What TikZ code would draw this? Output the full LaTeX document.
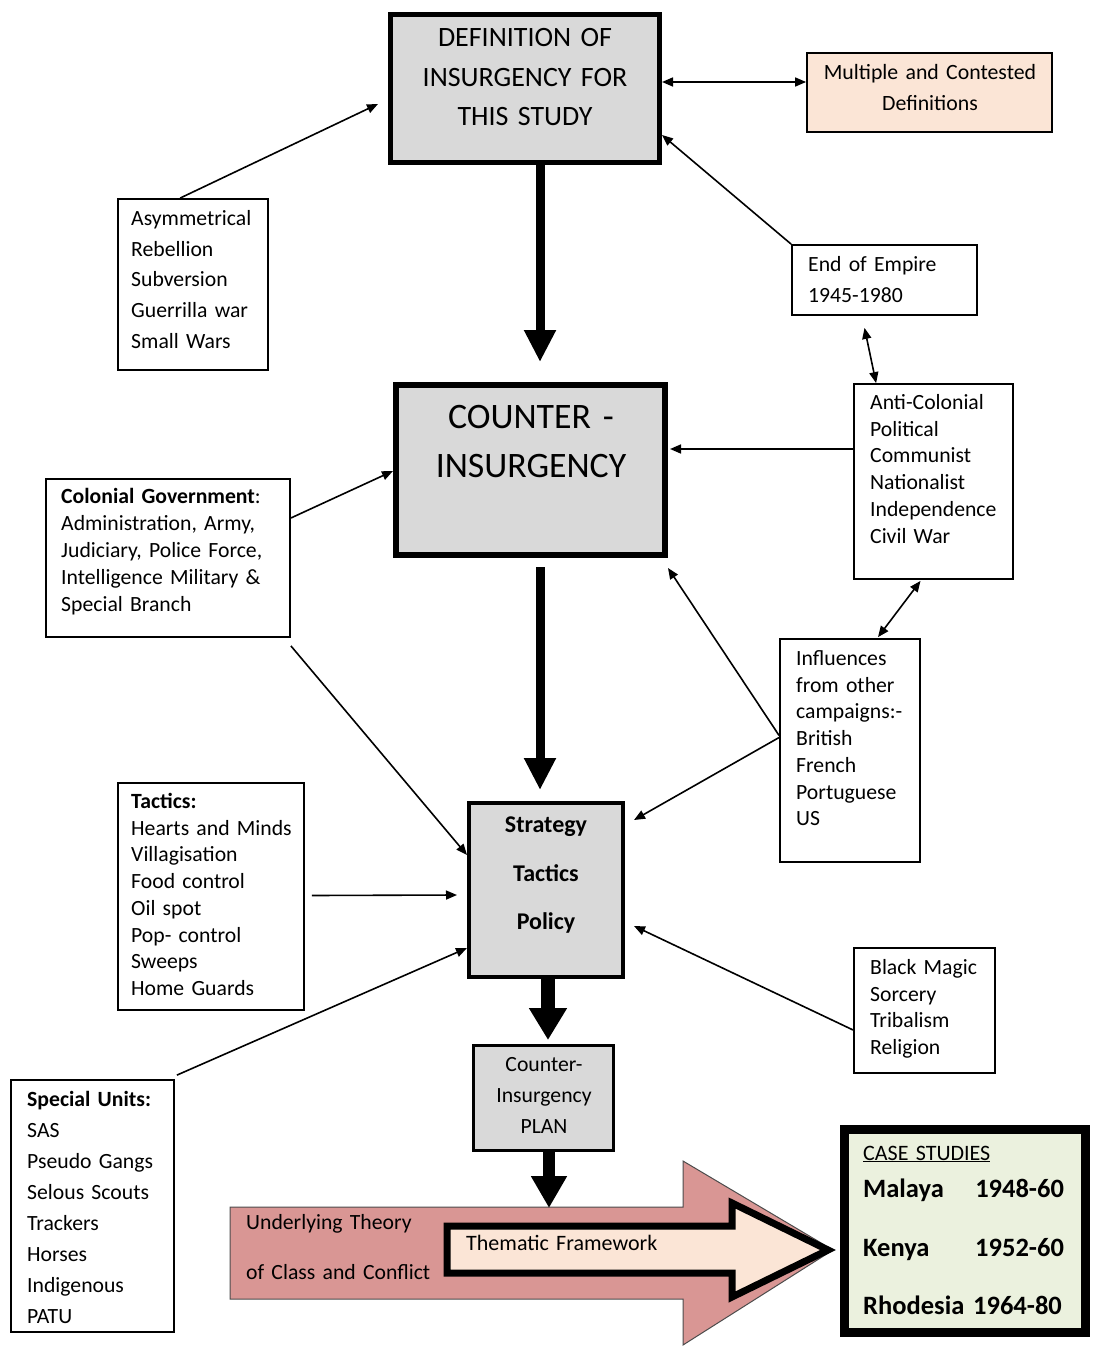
\documentclass[tikz,border=0pt]{standalone}
\usepackage{fontspec}
\setmainfont{Carlito}
\usetikzlibrary{arrows.meta,calc}
\definecolor{boxgray}{HTML}{D9D9D9}
\definecolor{peach}{HTML}{FBE5D6}
\definecolor{rosepink}{HTML}{D99694}
\definecolor{casegreen}{HTML}{EBF1DE}

\begin{document}
\begin{tikzpicture}[x=1pt,y=-1pt,
  box/.style={draw=black,line width=1.8pt,inner sep=0pt},
  txt/.style={align=left,text width=230,inner sep=0pt,anchor=base west,font=\fontsize{21.7}{26.7}\selectfont},
  ctxt/.style={align=center,text width=260,inner sep=0pt,anchor=base},
  arr/.style={line width=1.6pt,-{Triangle[length=11pt,width=9pt]}},
  darr/.style={line width=1.6pt,{Triangle[length=11pt,width=9pt]}-{Triangle[length=11pt,width=9pt]}},
  bigarr/.style={line width=9pt,-{Triangle[length=32pt,width=30pt]}},
]
\useasboundingbox (0,0) rectangle (1097,1348);

\node[box,line width=5pt,fill=boxgray,minimum width=269,minimum height=148] (def) at (525,88.5) {};
\node[box,fill=peach,minimum width=245,minimum height=79] (multi) at (929.5,92.5) {};
\node[box,minimum width=150,minimum height=171] (asym) at (193,284.5) {};
\node[box,minimum width=185,minimum height=70] (empire) at (884.5,280) {};
\node[box,minimum width=159,minimum height=195] (anti) at (933.5,481.5) {};
\node[box,line width=6pt,fill=boxgray,minimum width=269,minimum height=170] (counter) at (530.5,470) {};
\node[box,minimum width=244,minimum height=158] (colonial) at (168,558) {};
\node[box,minimum width=140,minimum height=223] (infl) at (850,750.5) {};
\node[box,minimum width=186,minimum height=227] (tactics) at (211,896.5) {};
\node[box,line width=4pt,fill=boxgray,minimum width=154,minimum height=174] (strategy) at (546,890) {};
\node[box,minimum width=141,minimum height=125] (black) at (924.5,1010.5) {};
\node[box,minimum width=163,minimum height=252] (special) at (92.5,1206) {};
\node[box,line width=3pt,fill=boxgray,minimum width=140,minimum height=105] (plan) at (543.5,1098) {};
\node[box,line width=9pt,fill=casegreen,minimum width=241,minimum height=203] (case) at (965,1231) {};

\node[ctxt,font=\fontsize{28}{39.5}\selectfont] (deftxt) at (525,47) {DEFINITION OF\\INSURGENCY FOR\\THIS STUDY};
\node[ctxt,font=\fontsize{21.8}{31}\selectfont] (multitxt) at (930,79.5) {Multiple and Contested\\Definitions};
\node[txt,font=\fontsize{21.7}{30.7}\selectfont] (asymtxt) at (131,225.5) {Asymmetrical\\Rebellion\\Subversion\\Guerrilla war\\Small Wars};
\node[txt,font=\fontsize{21.7}{31}\selectfont] (empiretxt) at (808,271.5) {End of Empire\\1945-1980};
\node[txt] (antitxt) at (870,409.5) {Anti-Colonial\\Political\\Communist\\Nationalist\\Independence\\Civil War};
\node[ctxt,font=\fontsize{35.8}{49}\selectfont] (countertxt) at (531,428.5) {COUNTER -\\INSURGENCY};
\node[txt,font=\fontsize{21.7}{27}\selectfont] (colonialtxt) at (61,503.5) {\textbf{Colonial Government}:\\Administration, Army,\\Judiciary, Police Force,\\Intelligence Military \&\\Special Branch};
\node[txt] (infltxt) at (796,665.5) {Influences\\from other\\campaigns:-\\British\\French\\Portuguese\\US};
\node[txt] (tacticstxt) at (131,808.5) {\textbf{Tactics:}\\Hearts and Minds\\Villagisation\\Food control\\Oil spot\\Pop- control\\Sweeps\\Home Guards};
\node[ctxt,font=\fontsize{24}{48.5}\selectfont\bfseries] (strategytxt) at (546,832.5) {Strategy\\Tactics\\Policy};
\node[txt] (blacktxt) at (870,974.5) {Black Magic\\Sorcery\\Tribalism\\Religion};
\node[txt,font=\fontsize{21.7}{31}\selectfont] (specialtxt) at (27,1106.5) {\textbf{Special Units:}\\SAS\\Pseudo Gangs\\Selous Scouts\\Trackers\\Horses\\Indigenous\\PATU};
\node[ctxt,font=\fontsize{21.7}{31}\selectfont] (plantxt) at (544,1071) {Counter-\\Insurgency\\PLAN};

\fill[rosepink,draw=black!70,line width=1pt] (230,1207) -- (683,1207) -- (683,1161) -- (833,1250) -- (683,1345) -- (683,1299) -- (230,1299) -- cycle;
\draw[fill=peach,line width=7pt,miter limit=10] (447,1226) -- (732,1226) -- (732,1203) -- (828,1250) -- (732,1297) -- (732,1273) -- (447,1273) -- cycle;
\coordinate (pinkin) at (549,1208);
\node[txt,font=\fontsize{21.7}{50}\selectfont] (theorytxt) at (246,1229.5) {Underlying Theory\\of Class and Conflict};
\node[txt,font=\fontsize{22}{26}\selectfont] (thematictxt) at (466,1250.5) {Thematic Framework};

\node[txt,font=\fontsize{22}{26}\selectfont] (casehd) at (863,1160) {\underline{CASE STUDIES}};
\node[txt,font=\fontsize{26.5}{58.5}\selectfont\bfseries] (caselist) at (863,1197.5) {\makebox[112pt][l]{Malaya}1948-60\\\makebox[112pt][l]{Kenya}1952-60\\Rhodesia 1964-80};

\draw[arr] ($(asym.north west)+(63,0)$) -- ($(def.west)+(-10,15.5)$);
\draw[darr] ($(def.east)+(0,-6.5)$) -- ($(multi.west)+(0,-10.5)$);
\draw[arr] (empire.north west) -- ($(def.east)+(0,46.5)$);
\draw[darr] ($(empire.south)+(-20,12)$) -- ($(anti.north west)+(23,0)$);
\draw[arr] ($(anti.west)+(0,-32.5)$) -- ($(counter.east)+(2,-21)$);
\draw[arr] ($(colonial.east)+(0,-40)$) -- ($(counter.west)+(0,1)$);
\draw[arr] ($(colonial.south east)+(0,8)$) -- ($(strategy.west)+(0,-35)$);
\draw[darr] ($(anti.south)+(-13,1)$) -- ($(infl.north)+(28,-1)$);
\draw[arr] ($(infl.west)+(0,-15)$) -- ($(counter.south east)+(0,10)$);
\draw[arr] ($(infl.west)+(0,-13)$) -- ($(strategy.east)+(9,-70)$);
\draw[arr] ($(tactics.east)+(7,-1)$) -- ($(strategy.west)+(-10,5)$);
\draw[arr] ($(black.west)+(0,19.5)$) -- ($(strategy.east)+(9,36)$);
\draw[arr] ($(special.north east)+(2,-4)$) -- ($(strategy.west)+(0,58)$);

\draw[bigarr] ($(def.south)+(15,0)$) -- ($(counter.north)+(9.5,-20)$);
\draw[bigarr] ($(counter.south)+(9.5,9)$) -- ($(strategy.north)+(-6,-11)$);
\draw[line width=14pt,-{Triangle[length=32pt,width=36pt]}] ($(strategy.south)+(2,0)$) -- ($(plan.north)+(4.5,-4)$);
\draw[line width=12pt,-{Triangle[length=32pt,width=34pt]}] ($(plan.south)+(5.5,0)$) -- (pinkin);
\end{tikzpicture}
\end{document}
